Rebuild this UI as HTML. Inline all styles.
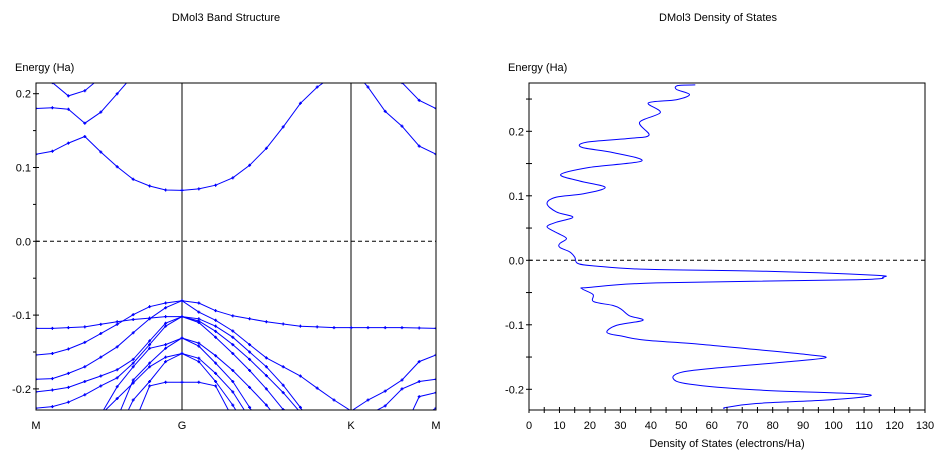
<!DOCTYPE html>
<html><head><meta charset="utf-8"><style>
html,body{margin:0;padding:0;background:#fff;width:947px;height:466px;overflow:hidden;}
svg{display:block;font-family:"Liberation Sans","DejaVu Sans",sans-serif;font-size:11px;}
</style></head><body>
<svg id="c" width="947" height="466" viewBox="0 0 947 466">
<defs>
<clipPath id="clipL"><rect x="36" y="83" width="400" height="327"/></clipPath>
<clipPath id="clipR"><rect x="529" y="83" width="396" height="327"/></clipPath>
</defs>
<text x="226" y="21" text-anchor="middle">DMol3 Band Structure</text>
<text x="718" y="21" text-anchor="middle">DMol3 Density of States</text>
<text x="15" y="71">Energy (Ha)</text>
<text x="508" y="71">Energy (Ha)</text>
<text x="727" y="447" text-anchor="middle">Density of States (electrons/Ha)</text>
<g id="band"></g>
<g id="dos"></g>
</svg>
<script>
const NS='http://www.w3.org/2000/svg';
// ---------- Band structure data ----------
const kPath=[0,0.041,0.081,0.122,0.162,0.203,0.243,0.284,0.324,0.365,0.407,0.449,0.492,0.534,0.576,0.618,0.661,0.703,0.745,0.788,0.830,0.873,0.915,0.958,1.0];
const kLabels=['M','G','K','M'];
const kLabelPos=[0,0.365,0.7875,1.0];
const bandYTicks=[0.2,0.1,0.0,-0.1,-0.2];
const bandYTickLabels=['0.2','0.1','0.0','-0.1','-0.2'];
const bandYMinor=[0.15,0.05,-0.05,-0.15];
const bandC1=[0.118,0.122,0.133,0.142,0.121,0.101,0.084,0.075,0.0695,0.069,0.071,0.076,0.086,0.103,0.126,0.155,0.187,0.209,0.225,0.235,0.209,0.176,0.156,0.129,0.118];
const bandC2=[0.180,0.181,0.179,0.160,0.175,0.200,0.225,0.25,0.27,0.28,0.28,0.29,0.30,0.30,0.30,0.30,0.30,0.30,0.29,0.28,0.26,0.24,0.215,0.191,0.180];
const bandC3=[0.24,0.215,0.197,0.204,0.222,0.25,0.28,0.30,0.31,0.32,0.32,0.32,0.32,0.32,0.32,0.32,0.32,0.32,0.32,0.31,0.30,0.29,0.28,0.26,0.24];
const bandV1=[-0.154,-0.152,-0.146,-0.137,-0.125,-0.1125,-0.0994,-0.0886,-0.0836,-0.0805,-0.0836,-0.094,-0.101,-0.105,-0.109,-0.112,-0.115,-0.116,-0.117,-0.117,-0.117,-0.117,-0.117,-0.1175,-0.118];
const bandV2=[-0.187,-0.186,-0.179,-0.170,-0.157,-0.143,-0.124,-0.105,-0.090,-0.0805,-0.096,-0.107,-0.1215,-0.140,-0.158,-0.170,-0.1825,-0.199,-0.215,-0.230,-0.215,-0.203,-0.188,-0.163,-0.154];
const bandV3=[-0.118,-0.118,-0.117,-0.116,-0.1125,-0.109,-0.106,-0.104,-0.102,-0.102,-0.105,-0.115,-0.130,-0.150,-0.170,-0.195,-0.225,-0.26,-0.28,-0.25,-0.235,-0.223,-0.200,-0.190,-0.187];
const bandV4=[-0.204,-0.2015,-0.198,-0.190,-0.1825,-0.174,-0.160,-0.135,-0.111,-0.102,-0.108,-0.122,-0.140,-0.160,-0.182,-0.205,-0.232,-0.26,-0.28,-0.30,-0.30,-0.29,-0.26,-0.2105,-0.205];
const bandV5=[-0.226,-0.224,-0.218,-0.208,-0.196,-0.185,-0.165,-0.140,-0.115,-0.102,-0.110,-0.130,-0.152,-0.175,-0.200,-0.228,-0.26,-0.28,-0.30,-0.31,-0.31,-0.30,-0.28,-0.24,-0.226];
const bandV6=[-0.40,-0.36,-0.32,-0.28,-0.235,-0.197,-0.170,-0.145,-0.140,-0.131,-0.138,-0.155,-0.175,-0.198,-0.222,-0.25,-0.28,-0.30,-0.32,-0.34,-0.34,-0.34,-0.34,-0.34,-0.34];
const bandV7=[-0.45,-0.42,-0.38,-0.34,-0.29,-0.24,-0.188,-0.165,-0.145,-0.131,-0.142,-0.165,-0.190,-0.225,-0.26,-0.29,-0.32,-0.34,-0.36,-0.38,-0.38,-0.38,-0.38,-0.38,-0.38];
const bandV8=[-0.40,-0.37,-0.33,-0.29,-0.235,-0.213,-0.192,-0.170,-0.157,-0.152,-0.1585,-0.179,-0.204,-0.240,-0.27,-0.30,-0.33,-0.35,-0.37,-0.39,-0.39,-0.39,-0.39,-0.39,-0.39];
const bandV9=[-0.50,-0.45,-0.40,-0.35,-0.30,-0.26,-0.215,-0.190,-0.163,-0.152,-0.163,-0.190,-0.222,-0.26,-0.30,-0.33,-0.36,-0.38,-0.40,-0.42,-0.42,-0.42,-0.42,-0.42,-0.42];
const bandV10=[-0.50,-0.45,-0.40,-0.35,-0.31,-0.28,-0.25,-0.196,-0.191,-0.191,-0.191,-0.196,-0.24,-0.29,-0.33,-0.36,-0.39,-0.41,-0.43,-0.45,-0.45,-0.45,-0.45,-0.45,-0.45];
const bands=[bandC1,bandC2,bandC3,bandV1,bandV2,bandV3,bandV4,bandV5,bandV6,bandV7,bandV8,bandV9,bandV10];
// ---------- DOS data ----------
const dosEnergy=[0.272,0.271,0.265,0.257,0.249,0.244,0.229,0.214,0.194,0.189,0.183,0.175,0.167,0.154,0.144,0.133,0.123,0.113,0.103,0.098,0.088,0.075,0.067,0.059,0.052,0.043,0.034,0.026,0.020,0.013,0.005,-0.005,-0.009,-0.014,-0.017,-0.023,-0.026,-0.030,-0.035,-0.042,-0.044,-0.053,-0.064,-0.070,-0.076,-0.086,-0.093,-0.101,-0.112,-0.118,-0.124,-0.130,-0.138,-0.146,-0.151,-0.157,-0.166,-0.173,-0.183,-0.192,-0.201,-0.207,-0.211,-0.217,-0.222,-0.228,-0.230];
const dosValue=[54.6,48.9,48.4,52.7,48.4,39.2,43.1,36.3,39.4,33,18.8,17.4,27.6,37,19.9,10.4,16.6,25,17.7,9,5.9,9,14.4,9,5.9,9,12.3,10.1,10.1,13.4,15,16.1,22.1,38.5,77.9,112.9,116.2,107.5,41.8,19.9,17.4,21,21.2,27.6,30.3,33,37.4,28.7,25.6,30.9,38.5,56,73.5,91,97.4,85.6,63.7,50.6,47.3,52.7,74.6,107.5,111.1,96.5,74.6,64.8,64.2];
const dosXTicks=[0,10,20,30,40,50,60,70,80,90,100,110,120,130];
const dosXMinor=[5,15,25,35,45,55,65,75,85,95,105,115,125];
const dosYTicks=[0.2,0.1,0.0,-0.1,-0.2];
const dosYTickLabels=['0.2','0.1','0.0','-0.1','-0.2'];
const dosYMinor=[0.25,0.15,0.05,-0.05,-0.15];

// ---------- Scales ----------
const L={x0:36,x1:436,y0:83,y1:410};
const bx=k=>L.x0+k*(L.x1-L.x0);
const by=e=>241.3-e*738;
const R={x0:529,x1:925,y0:83,y1:410};
const dx=v=>R.x0+v*(R.x1-R.x0)/130;
const dy=e=>260.3-e*645;

function mk(tag,attrs,parent){const el=document.createElementNS(NS,tag);for(const k in attrs)el.setAttribute(k,attrs[k]);parent.appendChild(el);return el;}
const gB=document.getElementById('band'), gD=document.getElementById('dos');

// ---- Band chart ----
const fermiL=mk('line',{x1:L.x0,x2:L.x1,y1:by(0),y2:by(0),stroke:'#000','stroke-dasharray':'4,3','stroke-width':1},gB);


kLabelPos.forEach((p,i)=>{
  if(i>0&&i<kLabelPos.length-1){
    const v=mk('line',{x1:bx(p),x2:bx(p),y1:L.y0,y2:L.y1,stroke:'#000','stroke-width':1},gB);
    
    
  }
  const t=mk('text',{x:bx(p),y:429,'text-anchor':'middle'},gB);t.textContent=kLabels[i];
  
  
});
const clipG=mk('g',{'clip-path':'url(#clipL)'},gB);
bands.forEach((b,bi)=>{
  const pts=b.map((e,i)=>bx(kPath[i]).toFixed(1)+','+by(e).toFixed(1)).join(' ');
  const pl=mk('polyline',{points:pts,fill:'none',stroke:'#0000ff','stroke-width':1},clipG);
  
  
  b.forEach((e,i)=>{
    const x=bx(kPath[i]),y=by(e);
    const m=mk('path',{d:`M${x-1.5},${y}h3M${x},${y-1.5}v3`,stroke:'#0000ff','stroke-width':1.2},clipG);
    
    
  });
});
const boxL=mk('rect',{x:L.x0,y:L.y0,width:L.x1-L.x0,height:L.y1-L.y0,fill:'none',stroke:'#000','stroke-width':1},gB);


bandYTicks.forEach((v,i)=>{
  const tk=mk('line',{x1:L.x0-3,x2:L.x0+3,y1:by(v),y2:by(v),stroke:'#000'},gB);
  
  
  const t=mk('text',{x:L.x0-5,y:by(v)+4,'text-anchor':'end'},gB);t.textContent=bandYTickLabels[i];
  
  
});
bandYMinor.forEach(v=>{
  const tk=mk('line',{x1:L.x0-3,x2:L.x0,y1:by(v),y2:by(v),stroke:'#000'},gB);
  
  
});

// ---- DOS chart ----
const fermiR=mk('line',{x1:R.x0,x2:R.x1,y1:dy(0),y2:dy(0),stroke:'#000','stroke-dasharray':'4,3'},gD);


const P=dosEnergy.map((e,i)=>[dx(dosValue[i]),dy(e)]);
let d='M'+P[0][0].toFixed(1)+','+P[0][1].toFixed(1);
for(let i=0;i<P.length-1;i++){
  const p0=P[Math.max(0,i-1)],p1=P[i],p2=P[i+1],p3=P[Math.min(P.length-1,i+2)];
  const c1=[p1[0]+(p2[0]-p0[0])/6,p1[1]+(p2[1]-p0[1])/6];
  const c2=[p2[0]-(p3[0]-p1[0])/6,p2[1]-(p3[1]-p1[1])/6];
  d+=`C${c1[0].toFixed(1)},${c1[1].toFixed(1)} ${c2[0].toFixed(1)},${c2[1].toFixed(1)} ${p2[0].toFixed(1)},${p2[1].toFixed(1)}`;
}
const gDc=mk('g',{'clip-path':'url(#clipR)'},gD);
const curve=mk('path',{d:d,fill:'none',stroke:'#0000ff','stroke-width':1},gDc);


const boxR=mk('rect',{x:R.x0,y:R.y0,width:R.x1-R.x0,height:R.y1-R.y0,fill:'none',stroke:'#000'},gD);


dosXTicks.forEach(v=>{
  const tk=mk('line',{x1:dx(v),x2:dx(v),y1:R.y1-3,y2:R.y1+3,stroke:'#000'},gD);
  
  
  const t=mk('text',{x:dx(v),y:429,'text-anchor':'middle'},gD);t.textContent=String(v);
  
  
});
dosXMinor.forEach(v=>{
  const tm=mk('line',{x1:dx(v),x2:dx(v),y1:R.y1-3,y2:R.y1+3,stroke:'#000'},gD);
  
  
});
dosYTicks.forEach((v,i)=>{
  const tk=mk('line',{x1:R.x0-3,x2:R.x0+3,y1:dy(v),y2:dy(v),stroke:'#000'},gD);
  
  
  const t=mk('text',{x:R.x0-5,y:dy(v)+4,'text-anchor':'end'},gD);t.textContent=dosYTickLabels[i];
  
  
});
dosYMinor.forEach(v=>{
  const tk=mk('line',{x1:R.x0-3,x2:R.x0+3,y1:dy(v),y2:dy(v),stroke:'#000'},gD);
  
  
});
</script>
</body></html>
